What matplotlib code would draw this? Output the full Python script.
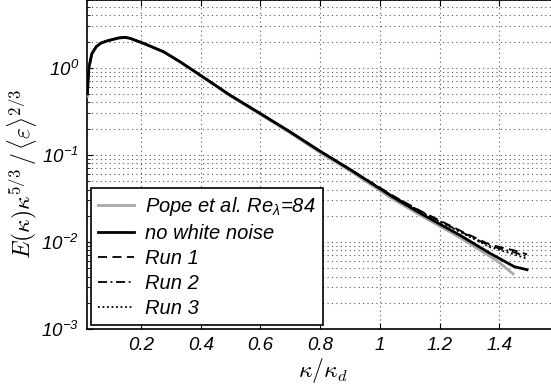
import matplotlib
matplotlib.use("Agg")
import matplotlib.pyplot as plt
import numpy as np
from matplotlib.ticker import LogLocator, FixedLocator, NullFormatter

plt.rcParams['font.family'] = ['Liberation Sans', 'DejaVu Sans']
plt.rcParams['font.style'] = 'italic'
plt.rcParams['mathtext.fontset'] = 'custom'
plt.rcParams['mathtext.rm'] = 'Liberation Sans:italic'
plt.rcParams['mathtext.it'] = 'Liberation Sans:italic'
plt.rcParams['mathtext.sf'] = 'Liberation Sans:italic'

# wavenumber kappa/kappa_d and compensated spectrum
k_main = [0.02, 0.025, 0.035, 0.05, 0.065, 0.085, 0.106, 0.125, 0.146, 0.163,
          0.208, 0.275, 0.331, 0.398, 0.498, 0.599, 0.699, 0.80, 0.90,
          1.044, 1.135, 1.269, 1.369, 1.45, 1.493]
e_nonoise = [0.5, 1.0, 1.45, 1.75, 1.92, 2.03, 2.12, 2.2, 2.24, 2.18,
             1.91, 1.53, 1.17, 0.824, 0.485, 0.299, 0.184, 0.11, 0.068,
             0.0327, 0.0214, 0.0119, 0.0074, 0.0052, 0.0048]

k_pope = [0.02, 0.025, 0.035, 0.05, 0.065, 0.085, 0.106, 0.125, 0.146, 0.163,
          0.208, 0.275, 0.331, 0.398, 0.498, 0.599, 0.699, 0.80, 0.90,
          1.044, 1.135, 1.269, 1.369, 1.40, 1.446]
e_pope = [0.47, 0.97, 1.43, 1.74, 1.91, 2.02, 2.11, 2.19, 2.23, 2.17,
          1.9, 1.52, 1.16, 0.815, 0.478, 0.292, 0.179, 0.106, 0.0655,
          0.031, 0.0203, 0.0112, 0.0068, 0.0058, 0.0043]

k_run = k_main
e_run1 = e_nonoise[:19] + [0.0340, 0.0228, 0.0135, 0.0093, 0.0080, 0.0072]
e_run2 = e_nonoise[:19] + [0.0335, 0.0225, 0.0132, 0.0090, 0.0076, 0.0068]
e_run3 = e_nonoise[:19] + [0.0333, 0.0222, 0.0130, 0.0087, 0.0072, 0.0064]

xticks = [0.2, 0.4, 0.6, 0.8, 1.0, 1.2, 1.4]
xtick_labels = ['0.2', '0.4', '0.6', '0.8', '1', '1.2', '1.4']

fig = plt.figure(figsize=(5.51, 3.88), dpi=100)
ax = fig.add_axes([0.1585, 0.152, 0.856, 0.848])

ax.plot(k_pope, e_pope, color='#a8a8a8', lw=2.0, label=r'Pope et al. Re$_{\lambda}$=84', zorder=3)
ax.plot(k_main, e_nonoise, color='black', lw=2.0, label='no white noise', zorder=4)
ax.plot(k_run, e_run1, color='black', lw=1.3, ls=(0, (5, 3)), label='Run 1', zorder=5)
ax.plot(k_run, e_run2, color='black', lw=1.3, ls=(0, (5, 2, 1, 2)), label='Run 2', zorder=5)
ax.plot(k_run, e_run3, color='black', lw=1.3, ls=(0, (1, 1.5)), label='Run 3', zorder=5)

ax.set_yscale('log')
ax.set_xlim(0.02, 1.6)
ax.set_ylim(1e-3, 6)
ax.xaxis.set_major_locator(FixedLocator(xticks))
ax.set_xticklabels(xtick_labels)
ax.yaxis.set_major_locator(LogLocator(base=10, numticks=10))
ax.yaxis.set_minor_locator(LogLocator(base=10, subs=np.arange(2, 10), numticks=20))
ax.yaxis.set_minor_formatter(NullFormatter())

ax.grid(True, which='major', axis='x', ls=(0, (1, 3)), color='#555555', lw=0.8)
ax.grid(True, which='both', axis='y', ls=(0, (1, 3)), color='#555555', lw=0.8)
ax.set_axisbelow(True)

ax.tick_params(which='both', direction='in', top=True, right=True, labelsize=13.5)
ax.tick_params(which='major', length=4, width=0.8, pad=6)
ax.tick_params(which='minor', length=2, width=0.6)
for s in ax.spines.values():
    s.set_linewidth(1.2)

ax.set_xlabel(r'$\kappa/\kappa_d$', fontsize=17, math_fontfamily='cm', labelpad=1)
ax.set_ylabel(r'$E(\kappa)\kappa^{5/3}\,/\,\langle\varepsilon\rangle^{2/3}$', fontsize=17,
              math_fontfamily='cm')
ax.yaxis.set_label_coords(-0.1024, 0.471)

leg = ax.legend(loc='lower left', bbox_to_anchor=(0.008, 0.012), fontsize=14.5,
                frameon=True, fancybox=False, edgecolor='black', framealpha=1,
                handlelength=1.8, handletextpad=0.55, borderpad=0.35, labelspacing=0.3,
                borderaxespad=0)
leg.get_frame().set_linewidth(1.2)

fig.savefig('out.png', dpi=100)
